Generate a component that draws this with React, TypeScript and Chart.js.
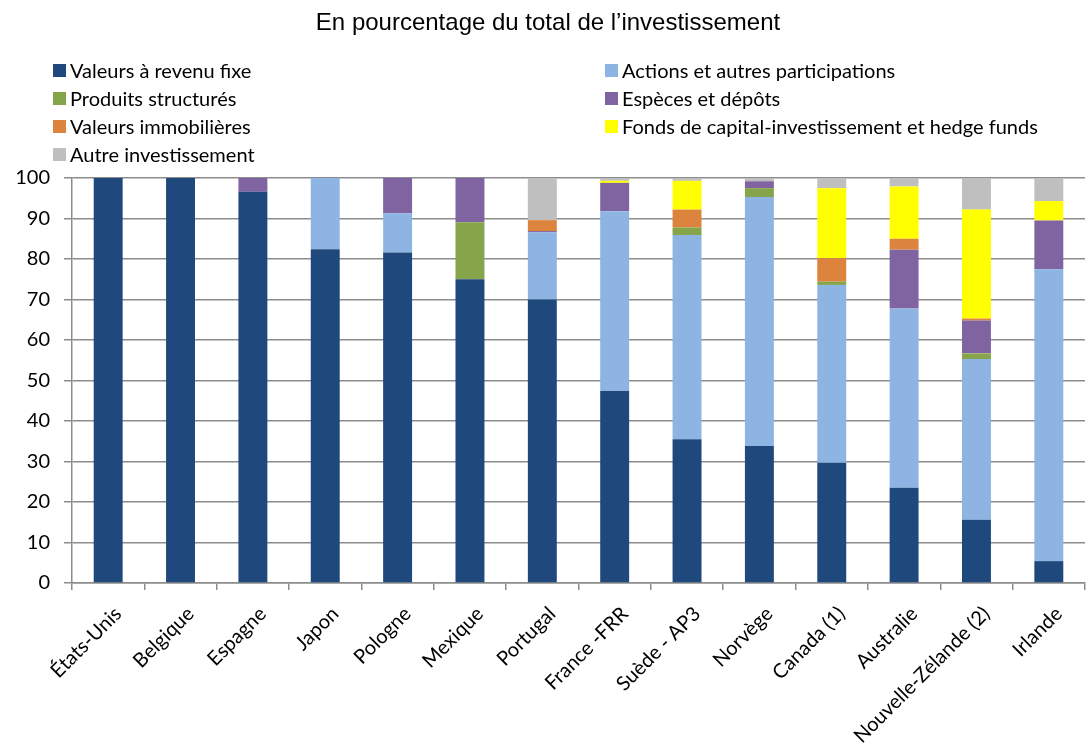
import React, { useEffect, useRef } from "react";
import { Chart, registerables } from "chart.js";

Chart.register(...registerables);

const titleText = "En pourcentage du total de l\u2019investissement";

const categories = [
  "États-Unis",
  "Belgique",
  "Espagne",
  "Japon",
  "Pologne",
  "Mexique",
  "Portugal",
  "France -FRR",
  "Suède - AP3",
  "Norvège",
  "Canada (1)",
  "Australie",
  "Nouvelle-Zélande (2)",
  "Irlande",
];

const seriesNames = [
  "Valeurs à revenu fixe",
  "Actions et autres participations",
  "Produits structurés",
  "Espèces et dépôts",
  "Valeurs immobilières",
  "Fonds de capital-investissement et hedge funds",
  "Autre investissement",
];

const seriesColors = ["#1F497D", "#8EB4E3", "#86A44A", "#8064A2", "#DC843E", "#FFFF00", "#BFBFBF"];

const fixedIncome = [100, 100, 96.6, 82.4, 81.6, 75.0, 70.0, 47.4, 35.5, 33.8, 29.7, 23.5, 15.6, 5.4];
const equities = [0, 0, 0, 17.6, 9.7, 0, 16.6, 44.4, 50.4, 61.5, 43.9, 44.3, 39.7, 72.1];
const structured = [0, 0, 0, 0, 0, 14.1, 0, 0, 1.9, 2.2, 0.8, 0, 1.4, 0];
const cash = [0, 0, 3.4, 0, 8.7, 10.9, 0.3, 7.0, 0, 1.7, 0, 14.5, 8.1, 12.0];
const realEstate = [0, 0, 0, 0, 0, 0, 2.7, 0, 4.4, 0, 5.8, 2.7, 0.5, 0];
const privateEquity = [0, 0, 0, 0, 0, 0, 0, 0.5, 7.1, 0, 17.3, 12.9, 26.9, 4.8];
const other = [0, 0, 0, 0, 0, 0, 10.5, 0.7, 0.7, 0.8, 2.5, 2.1, 7.8, 5.7];

const seriesValues = [fixedIncome, equities, structured, cash, realEstate, privateEquity, other];

const yTicks = [0, 10, 20, 30, 40, 50, 60, 70, 80, 90, 100];

const LABEL_FONT = "Lato, 'Open Sans', sans-serif";
const TITLE_FONT = "'Liberation Sans', Arial, sans-serif";
const AXIS_COLOR = "#8c8c8c";

const headerPlugin = {
  id: "headerPlugin",
  afterDraw(chart: any) {
    const ctx = chart.ctx;
    ctx.save();
    ctx.fillStyle = "#000";
    ctx.font = `24px ${TITLE_FONT}`;
    ctx.textAlign = "center";
    ctx.textBaseline = "middle";
    ctx.fillText(titleText, 548, 23);

    ctx.font = `20px ${LABEL_FONT}`;
    ctx.textAlign = "left";
    const colX = [53, 605];
    const rowY0 = 71;
    const rowGap = 28;
    chart.data.datasets.forEach((ds: any, i: number) => {
      const col = i % 2;
      const row = Math.floor(i / 2);
      const x = colX[col];
      const y = rowY0 + row * rowGap;
      ctx.fillStyle = ds.backgroundColor;
      ctx.fillRect(x, y - 7, 13, 13);
      ctx.fillStyle = "#000";
      ctx.fillText(ds.label, x + 17, y + 1);
    });
    ctx.restore();
  },
};

export default function App() {
  const canvasRef = useRef<HTMLCanvasElement | null>(null);

  useEffect(() => {
    if (!canvasRef.current) return;
    const chart = new Chart(canvasRef.current, {
      type: "bar",
      data: {
        labels: categories,
        datasets: seriesNames.map((name, i) => ({
          label: name,
          data: seriesValues[i],
          backgroundColor: seriesColors[i],
          borderWidth: 0,
          barPercentage: 0.4,
          categoryPercentage: 1,
        })),
      },
      options: {
        animation: false,
        responsive: false,
        maintainAspectRatio: false,
        layout: { padding: { top: 178, left: 0, right: 3, bottom: 0 } },
        plugins: {
          legend: { display: false },
          title: { display: false },
          tooltip: { enabled: false },
        },
        scales: {
          x: {
            stacked: true,
            grid: {
              display: true,
              drawOnChartArea: false,
              drawTicks: true,
              tickLength: 7,
              offset: true,
              color: AXIS_COLOR,
              lineWidth: 1.5,
            },
            border: { display: true, color: AXIS_COLOR, width: 1.5 },
            ticks: {
              color: "#000",
              font: { family: LABEL_FONT, size: 20 },
              maxRotation: 45,
              minRotation: 45,
              autoSkip: false,
              padding: 12,
              labelOffset: 10,
            },
            afterFit: (scale: any) => {
              scale.height = 170;
            },
          },
          y: {
            stacked: true,
            min: 0,
            max: 100,
            afterBuildTicks: (scale: any) => {
              scale.ticks = yTicks.map((v) => ({ value: v }));
            },
            grid: {
              color: AXIS_COLOR,
              lineWidth: 1.5,
              drawTicks: true,
              tickLength: 8,
            },
            border: { display: true, color: AXIS_COLOR, width: 1.5 },
            ticks: {
              color: "#000",
              font: { family: LABEL_FONT, size: 20 },
              padding: 14,
            },
            afterFit: (scale: any) => {
              scale.width = 72;
            },
          },
        },
      },
      plugins: [headerPlugin],
    });
    return () => chart.destroy();
  }, []);

  return (
    <div style={{ position: "fixed", left: 0, top: 0, width: 1088, height: 753, background: "#fff" }}>
      <canvas ref={canvasRef} width={1088} height={753} style={{ display: "block", width: 1088, height: 753 }} />
    </div>
  );
}
